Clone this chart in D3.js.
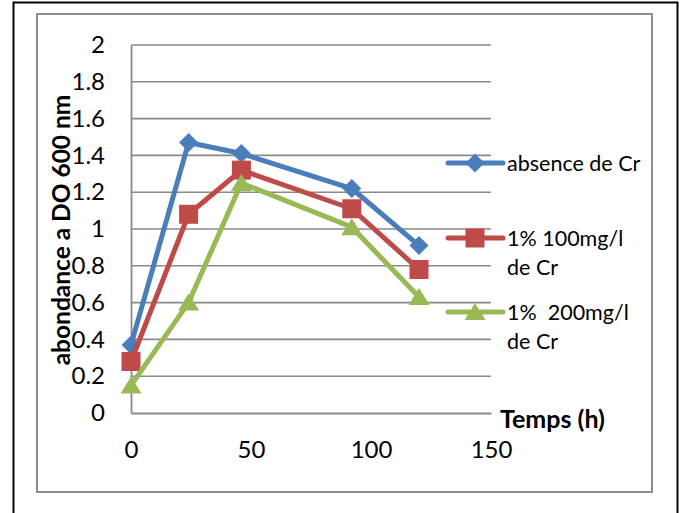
<!DOCTYPE html>
<html>
<head>
<meta charset="utf-8">
<script src="https://cdn.jsdelivr.net/npm/d3@7/dist/d3.min.js"></script>
<style>
  html, body { margin: 0; padding: 0; background: #fff; }
  svg { display: block; }
  text { font-family: Lato, "Open Sans", sans-serif; fill: #000; }
</style>
</head>
<body>
<svg id="chart" width="685" height="513"></svg>
<script>
// Growth (OD 600 nm) over time for three chromium conditions
const hours = [0, 24, 46, 92, 120];
const absenceCr = [0.37, 1.47, 1.41, 1.22, 0.91];
const cr100 = [0.28, 1.08, 1.32, 1.11, 0.78];
const cr200 = [0.15, 0.60, 1.25, 1.01, 0.63];
const seriesNames = [["absence de Cr"], ["1% 100mg/l", "de Cr"], ["1%  200mg/l", "de Cr"]];
const seriesColors = ["#4A7EBB", "#BE4B48", "#98B954"];
const markerShapes = ["diamond", "square", "triangle"];
const xTicks = [0, 50, 100, 150];
const yTicks = [0, 0.2, 0.4, 0.6, 0.8, 1, 1.2, 1.4, 1.6, 1.8, 2];
const xTitle = "Temps (h)";
const yTitle = "abondance a DO 600 nm";

const series = [absenceCr, cr100, cr200].map((vals, i) => ({
  name: seriesNames[i],
  color: seriesColors[i],
  shape: markerShapes[i],
  points: hours.map((h, j) => ({ x: h, y: vals[j] }))
}));

const svg = d3.select("#chart");

// frames
svg.append("rect").attr("x", 13.5).attr("y", 2.5).attr("width", 664).attr("height", 530)
  .attr("fill", "none").attr("stroke", "#000").attr("stroke-width", 2);
svg.append("rect").attr("x", 37).attr("y", 14).attr("width", 615).attr("height", 478)
  .attr("fill", "#fff").attr("stroke", "#8e8e8e").attr("stroke-width", 2);

const x = d3.scaleLinear().domain([0, 150]).range([131, 491]);
const y = d3.scaleLinear().domain([0, 2]).range([413, 45]);

// horizontal gridlines
svg.append("g").selectAll("line").data(yTicks.filter(d => d > 0)).join("line")
  .attr("x1", x(0)).attr("x2", x(150))
  .attr("y1", d => y(d)).attr("y2", d => y(d))
  .attr("stroke", "#8a8a8a").attr("stroke-width", 1.6);

// axes
const yAxis = svg.append("g").attr("transform", `translate(${x(0)},0)`)
  .call(d3.axisLeft(y).tickValues(yTicks).tickSize(0).tickPadding(26).tickFormat(d3.format("")));
const xAxis = svg.append("g").attr("transform", `translate(0,${y(0)})`)
  .call(d3.axisBottom(x).tickValues(xTicks).tickSize(0).tickPadding(28).tickFormat(d3.format("")));
[xAxis, yAxis].forEach(g => {
  g.select(".domain").attr("stroke", "#8a8a8a").attr("stroke-width", 1.8);
  g.selectAll("text").style("font-family", "Lato, 'Open Sans', sans-serif")
    .style("font-size", "24px").attr("fill", "#000");
});

// axis titles
svg.append("text").attr("x", 500).attr("y", 428)
  .style("font-size", "25px").style("font-weight", "bold").text(xTitle);
svg.append("text").attr("transform", "translate(70,230) rotate(-90)")
  .attr("text-anchor", "middle")
  .style("font-size", "24.5px").style("font-weight", "bold").text(yTitle);

// marker paths
function markerPath(shape) {
  if (shape === "diamond") return "M0,-9.5L9.5,0L0,9.5L-9.5,0Z";
  if (shape === "square") return "M-9.5,-9.5H9.5V9.5H-9.5Z";
  return "M0,-9L10.5,8H-10.5Z";
}

const line = d3.line().x(d => x(d.x)).y(d => y(d.y));

series.forEach(s => {
  const g = svg.append("g");
  g.append("path").attr("d", line(s.points)).attr("fill", "none")
    .attr("stroke", s.color).attr("stroke-width", 5).attr("stroke-linejoin", "round");
  g.selectAll("path.m").data(s.points).join("path").attr("class", "m")
    .attr("transform", d => `translate(${x(d.x)},${y(d.y)})`)
    .attr("d", markerPath(s.shape)).attr("fill", s.color);
});

// legend
const legendY = [163, 238, 312];
series.forEach((s, i) => {
  const g = svg.append("g").attr("transform", `translate(0,${legendY[i]})`);
  g.append("line").attr("x1", 448).attr("x2", 503).attr("y1", 0).attr("y2", 0)
    .attr("stroke", s.color).attr("stroke-width", 5).attr("stroke-linecap", "round");
  g.append("path").attr("transform", "translate(475,0)")
    .attr("d", markerPath(s.shape)).attr("fill", s.color);
  const t = g.append("text").attr("x", 507).attr("y", 8).style("font-size", "21.5px");
  s.name.forEach((ln, k) => {
    t.append("tspan").attr("x", 507).attr("dy", k === 0 ? 0 : 29).style("white-space", "pre").text(ln);
  });
});
</script>
</body>
</html>
